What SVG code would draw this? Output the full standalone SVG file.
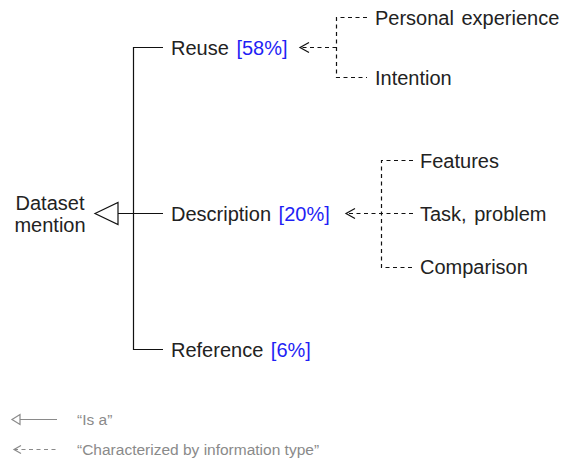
<svg xmlns="http://www.w3.org/2000/svg" width="564" height="459" viewBox="0 0 564 459">
  <style>
    text { font-family: "Liberation Sans", Arial, Helvetica, sans-serif; font-size: 20px; fill: #222; word-spacing: 2px; }
    .pct { fill: #1f1ff5; }
    .legend { font-size: 15.5px; fill: #8a8a8a; word-spacing: 0; }
    .solid { fill: none; stroke: #111; stroke-width: 1.2; }
    .dash { fill: none; stroke: #111; stroke-width: 1.2; stroke-dasharray: 4 3.5; }
    .head { fill: none; stroke: #111; stroke-width: 1.2; }
    .lg { fill: none; stroke: #8a8a8a; stroke-width: 1.2; }
    .lgdash { fill: none; stroke: #8a8a8a; stroke-width: 1.2; stroke-dasharray: 4 3.5; }
  </style>

  <!-- connectors -->
  <g id="connectors">
    <!-- "is a" tree: branches join the trunk, trunk points to the parent with a hollow triangle -->
    <path class="solid" d="M163 47.5 H133.5 V349.5 H163"/>
    <path class="solid" d="M163 213.5 H118"/>
    <polygon points="95,213.5 118,202.5 118,224.5" fill="#fff" stroke="#111" stroke-width="1.2"/>

    <!-- information-type links for Reuse -->
    <path class="dash" d="M367 17.5 H336.5 V77.5 H367"/>
    <path class="dash" d="M336.5 47.5 H301"/>
    <path class="head" d="M309 42.5 L300 47.5 L309 52.5"/>

    <!-- information-type links for Description -->
    <path class="dash" d="M413 160.5 H381.5 V267.5 H413"/>
    <path class="dash" d="M413 213.5 H347"/>
    <path class="head" d="M355 208.5 L346 213.5 L355 218.5"/>
  </g>

  <g id="dataset-mention">
    <text x="50" y="210" text-anchor="middle">Dataset</text>
    <text x="50" y="232" text-anchor="middle">mention</text>
  </g>

  <g id="reuse">
    <text x="171" y="55">Reuse <tspan class="pct">[58%]</tspan></text>
  </g>

  <g id="description">
    <text x="171" y="221">Description <tspan class="pct">[20%]</tspan></text>
  </g>

  <g id="reference">
    <text x="171" y="357">Reference <tspan class="pct">[6%]</tspan></text>
  </g>

  <g id="personal-experience">
    <text x="375" y="25">Personal experience</text>
  </g>

  <g id="intention">
    <text x="375" y="85">Intention</text>
  </g>

  <g id="features">
    <text x="420" y="168">Features</text>
  </g>

  <g id="task-problem">
    <text x="420" y="221">Task, problem</text>
  </g>

  <g id="comparison">
    <text x="420" y="274">Comparison</text>
  </g>

  <!-- legend -->
  <g id="legend">
    <path class="lg" d="M20 419.5 H57"/>
    <polygon points="12,419.5 20,414.5 20,424.5" fill="#fff" stroke="#8a8a8a" stroke-width="1.2"/>
    <text class="legend" x="77" y="425">“Is a”</text>

    <path class="lgdash" d="M14 449.5 H57"/>
    <path class="lg" d="M21 445.5 L14 449.5 L21 453.5"/>
    <text class="legend" x="77" y="455">“Characterized by information type”</text>
  </g>
</svg>
